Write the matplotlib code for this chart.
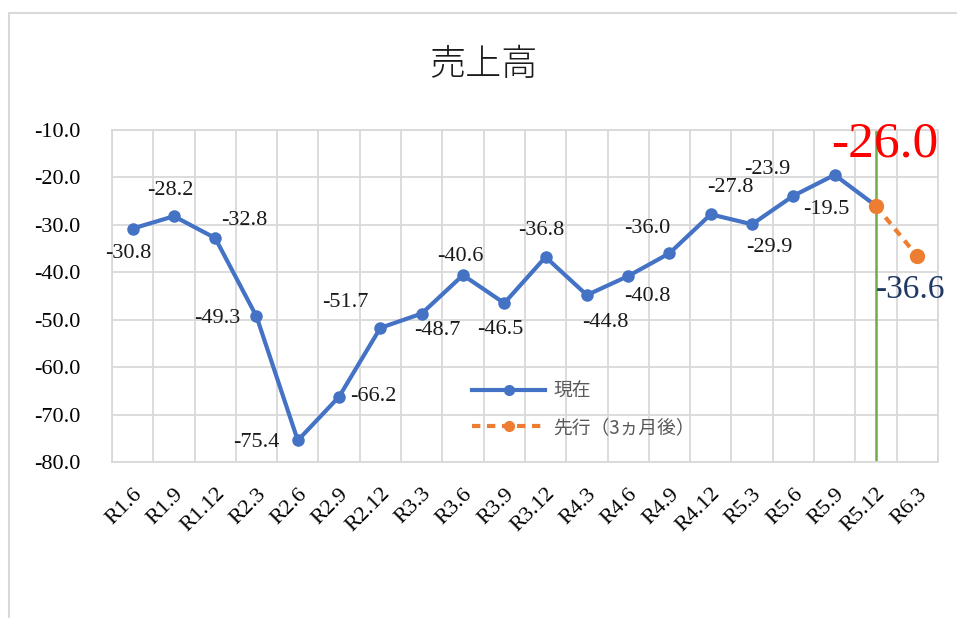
import numpy as np
import matplotlib
matplotlib.use('Agg')
from matplotlib import pyplot as plt
from matplotlib.lines import Line2D

plt.rcParams['font.family'] = ['Liberation Serif', 'Noto Sans CJK JP']

periods = ['R1.6', 'R1.9', 'R1.12', 'R2.3', 'R2.6', 'R2.9', 'R2.12', 'R3.3', 'R3.6', 'R3.9',
           'R3.12', 'R4.3', 'R4.6', 'R4.9', 'R4.12', 'R5.3', 'R5.6', 'R5.9', 'R5.12', 'R6.3']
current = [-30.8, -28.2, -32.8, -49.3, -75.4, -66.2, -51.7, -48.7, -40.6, -46.5,
           -36.8, -44.8, -40.8, -36.0, -27.8, -29.9, -23.9, -19.5, -26.0]
lead_periods = ['R5.12', 'R6.3']
lead = [-26.0, -36.6]
yticks = [-10, -20, -30, -40, -50, -60, -70, -80]

# label offsets (points) for each blue point
offsets = [(-3.3, -18), (-2.5, 18.5), (21, 12.6), (-28, -1.5), (-30, -1.5), (25, 0),
           (-25.6, 18), (11.5, -12), (-2, 13.7), (-2.5, -19), (-3, 19), (13, -20),
           (13.5, -15), (-16, 18), (14, 19), (12.7, -17), (-19, 18.6), (-5.7, -25)]

blue = '#4472C4'
orange = '#ED7D31'

fig = plt.figure(figsize=(9.57, 6.18), dpi=100)
ax = fig.add_axes([0.117, 0.252, 0.863, 0.538])

x = np.arange(len(periods))
xl = [periods.index(p) for p in lead_periods]

ax.plot(x[:len(current)], current, color=blue, lw=3, marker='o', ms=8, zorder=3)
ax.plot(xl, lead, color=orange, lw=3, ls=(0, (2, 1.6)), marker='o', ms=10, zorder=4)
ax.axvline(periods.index('R5.12'), color='#70AD47', lw=1.8, zorder=2)

for i, v in enumerate(current[:-1]):
    ax.annotate(f'{v:.1f}', (i, v), xytext=offsets[i], textcoords='offset points',
                ha='center', va='center', fontsize=16, color='#1a1a1a')

ax.annotate(f'{lead[0]:.1f}', (xl[0], lead[0]), xytext=(6.5, 44), textcoords='offset points',
            ha='center', va='center', fontsize=37, color='#FF0000')
ax.annotate(f'{lead[1]:.1f}', (xl[1], lead[1]), xytext=(-5, -24.5), textcoords='offset points',
            ha='center', va='center', fontsize=24, color='#1F3864')

ax.set_xlim(-0.5, len(periods) - 0.5)
ax.set_ylim(-80, -10)
ax.set_yticks(yticks)
ax.set_yticklabels([f'{t:.1f}' for t in yticks], fontsize=16)
ax.set_xticks(x)
ax.set_xticklabels(periods, fontsize=16, rotation=45, ha='right', rotation_mode='anchor')
ax.set_xticks(np.arange(len(periods) + 1) - 0.5, minor=True)
ax.tick_params(axis='both', which='both', length=0)
ax.tick_params(axis='y', pad=23)
ax.tick_params(axis='x', pad=16)
ax.grid(True, axis='y', which='major', color='#D9D9D9', lw=1.3)
ax.grid(True, axis='x', which='minor', color='#D9D9D9', lw=1.3)
for s in ax.spines.values():
    s.set_color('#D9D9D9')
    s.set_linewidth(1.3)

fig.text(0.505, 0.895, '売上高', ha='center', va='center', fontsize=26,
         family=['Noto Sans CJK JP'], fontweight='light', color='#1a1a1a')

handles = [Line2D([], [], color=blue, lw=3, marker='o', ms=7),
           Line2D([], [], color=orange, lw=3, ls=(0, (2, 1.6)), marker='o', ms=7)]
leg = fig.legend(handles, ['現在', '先行（3ヵ月後）'], loc='upper left',
                 bbox_to_anchor=(472 / 957, 0.3835), frameon=False,
                 handlelength=3.9, handletextpad=0.43, labelspacing=0.8,
                 borderpad=0, borderaxespad=0,
                 prop={'family': ['Noto Sans CJK JP'], 'size': 13.5})
for t in leg.get_texts():
    t.set_color('#595959')

fig.add_artist(Line2D([0.009, 0.009, 1.0], [0.0, 0.979, 0.979], transform=fig.transFigure,
                      color='#D9D9D9', lw=1.5))

fig.savefig('out.png', dpi=100)
